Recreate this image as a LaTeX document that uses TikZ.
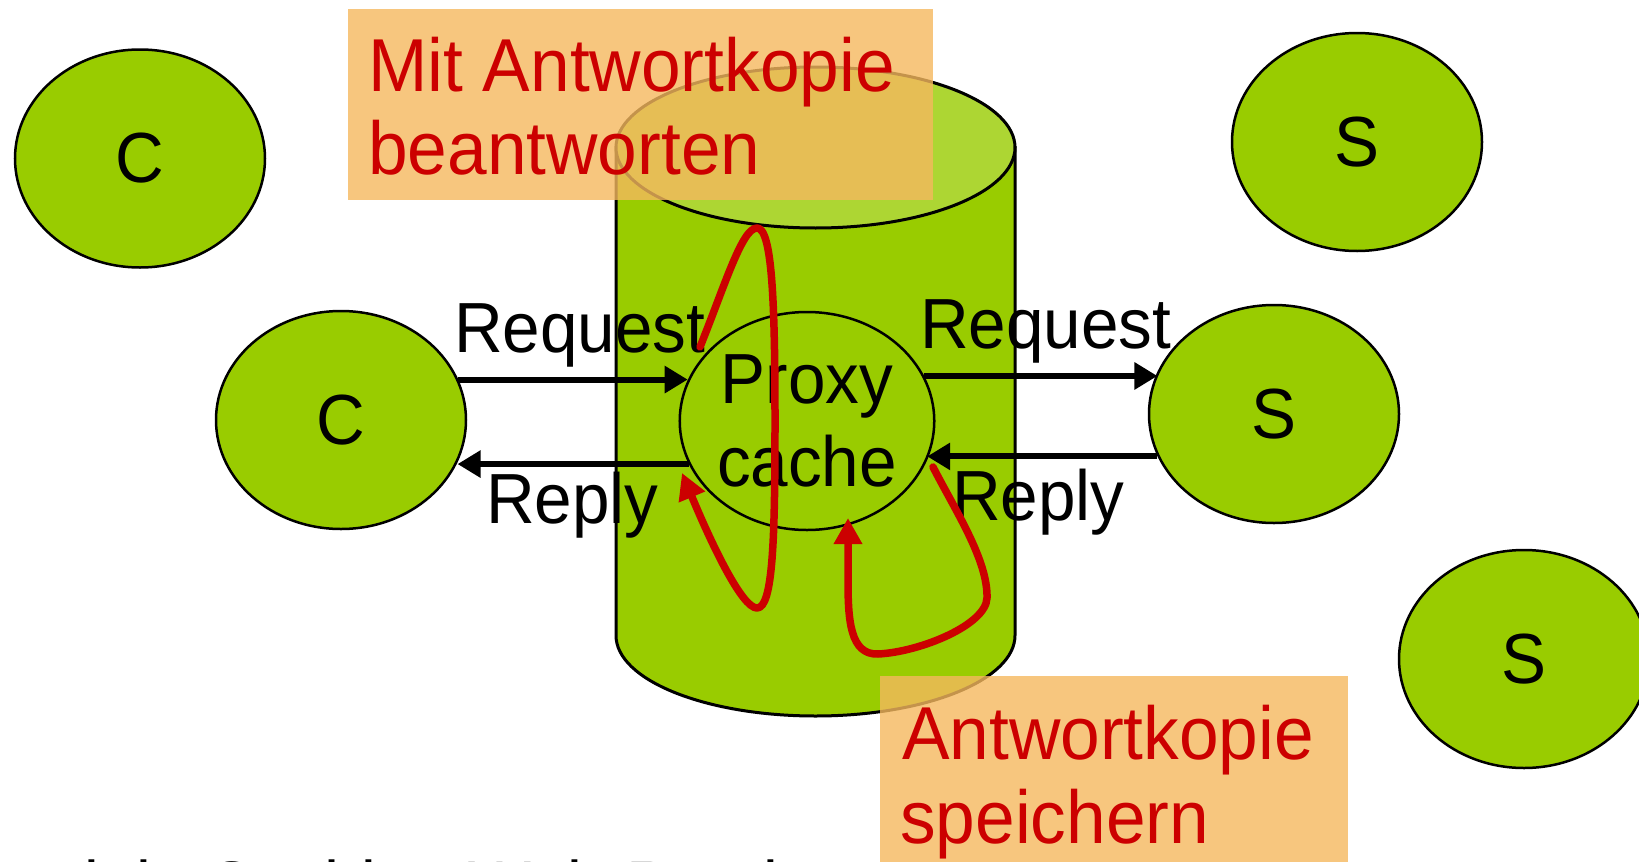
\documentclass[tikz,border=0pt]{standalone}
\usepackage{fontspec}
\setmainfont[FakeStretch=0.95]{Liberation Sans}
\usetikzlibrary{shapes.geometric,arrows.meta}
\definecolor{hostgreen}{HTML}{99CC00}
\definecolor{topgreen}{HTML}{ADD633}
\definecolor{pred}{HTML}{CC0000}
\definecolor{boxorange}{HTML}{F5B85E}
\begin{document}
\begin{tikzpicture}[x=1pt,y=-1pt,
  host/.style={ellipse, draw=black, line width=2.5pt, fill=hostgreen,
    minimum width=250pt, minimum height=218pt, inner sep=0pt,
    font=\fontsize{71}{83}\selectfont, align=center},
  lbl/.style={font=\fontsize{71}{83}\selectfont, inner sep=0pt, anchor=base west},
  notetext/.style={lbl, text=pred, font=\fontsize{75}{83}\selectfont},
  notebox/.style={fill=boxorange, fill opacity=0.8, draw=none, inner sep=0pt,
    anchor=north west},
  flow/.style={line width=6pt, -{Triangle[length=23pt,width=26pt]}},
  redflow/.style={draw=pred, line width=7.5pt, line cap=round, line join=round,
    -{Triangle[length=26pt,width=27pt,fill=pred]}}
]
\useasboundingbox (0,0) rectangle (1639,862);

% outer hosts
\node[host] (c1) at (140,158.5) {C};
\node[host] (s1) at (1357,142) {S};
\node[host] (s3) at (1524,659) {S};

% cylinder (cache store)
\path[draw=black, line width=3pt, fill=hostgreen]
  (616,147.5) -- (616,635.5)
  arc[start angle=180, end angle=0, x radius=199.5, y radius=80.5]
  -- (1015,147.5) -- cycle;
\path[draw=black, line width=3pt, fill=topgreen]
  (815.5,147.5) ellipse[x radius=199.5, y radius=80.5];

% hosts in the flow
\node[host] (c2) at (341,420) {C};
\node[host] (s2) at (1274,414) {S};
\node[host] (pc) at (807,421) {Proxy\\cache};

% request / reply arrows
\draw[flow] (c2.19.5) -- (c2.19.5 -| pc.161);
\draw[flow] (pc.200) -- (pc.200 -| c2.-20);
\draw[flow] (pc.21) -- (pc.21 -| s2.160);
\draw[flow] (s2.200) -- (s2.200 -| pc.-18);

\node[lbl] (rq1) at (454,352) {Request};
\node[lbl] (rp1) at (486,523) {Reply};
\node[lbl] (rq2) at (920,348) {Request};
\node[lbl] (rp2) at (952,520) {Reply};

% red cache paths
\coordinate (a0) at (700,347);
\coordinate (a1) at (682,473);
\coordinate (b0) at (933,467);
\coordinate (b1) at (848,518);
\draw[redflow] (a0) .. controls (725,285) and (742,228) .. (757,228)
  .. controls (772,228) and (775,300) .. (775,420)
  .. controls (775,540) and (773,608) .. (757,608)
  .. controls (742,608) and (712,545) .. (a1);
\draw[redflow] (b0) .. controls (955,510) and (988,560) .. (987,598)
  .. controls (986,625) and (920,652) .. (878,654)
  .. controls (850,655) and (848,620) .. (848,580) -- (b1);

% notes
\node[notebox, minimum width=585pt, minimum height=191pt] (n1) at (348,9) {};
\node[notetext] (n1a) at (368,91) {Mit Antwortkopie};
\node[notetext] (n1b) at (368,174) {beantworten};
\node[notebox, minimum width=468pt, minimum height=190pt] (n2) at (880,676) {};
\node[notetext] (n2a) at (902,759) {Antwortkopie};
\node[notetext] (n2b) at (900,843) {speichern};

% cut-off caption line at the bottom edge
\node[lbl, font=\fontsize{70}{83}\selectfont] (cap) at (51,910) {viele Caching Web-Proxies};
\end{tikzpicture}
\end{document}
